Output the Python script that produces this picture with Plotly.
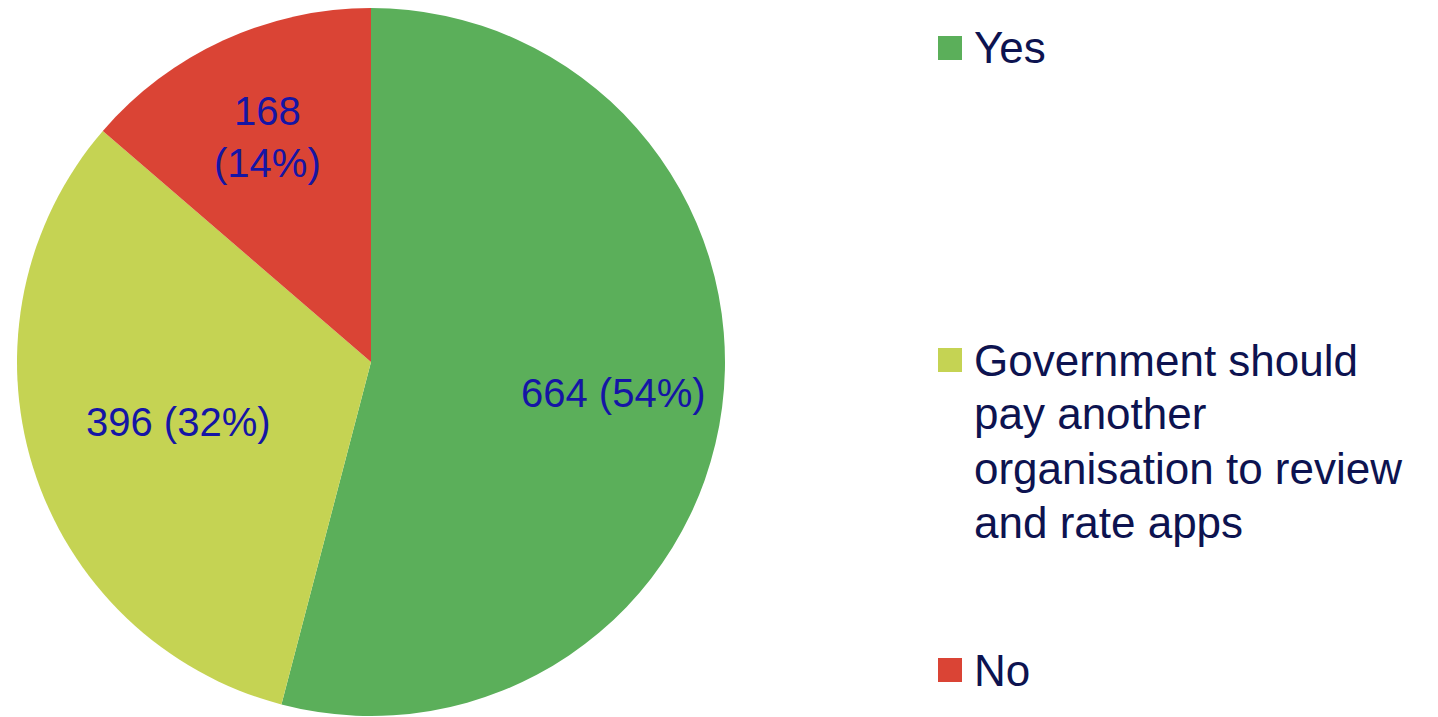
import math
import plotly.graph_objects as go

# Data
categories = ["Yes", "Government should pay another organisation to review and rate apps", "No"]
legend_lines = [["Yes"],
                ["Government should", "pay another", "organisation to review", "and rate apps"],
                ["No"]]
values = [664, 396, 168]
colors = ["#5BAF5A", "#C5D353", "#DA4435"]

# Styling / layout
W, H = 1438, 717
CX, CY, R = 371, 362, 354           # pie centre and radius in pixels
label_radius = [0.69, 0.57, 0.70]   # where each value label sits (fraction of radius)
FONT = "Liberation Sans, Arial, Helvetica, sans-serif"

total = sum(values)
pcts = [round(v / total * 100) for v in values]

fig = go.Figure()
fig.add_trace(go.Pie(
    labels=categories,
    values=values,
    textinfo="none",
    sort=False,
    direction="clockwise",
    rotation=0,
    marker=dict(colors=colors, line=dict(width=0)),
    showlegend=False,
    hoverinfo="label+value+percent",
    domain=dict(x=[(CX - R) / W, (CX + R) / W], y=[1 - (CY + R) / H, 1 - (CY - R) / H]),
))

annotations = []
# value labels placed at each slice's mid-angle (clockwise from 12 o'clock)
cum = 0
for c, v, p, rf in zip(categories, values, pcts, label_radius):
    mid = (cum + v / 2) / total * 2 * math.pi
    cum += v
    px = CX + rf * R * math.sin(mid)
    py = CY - rf * R * math.cos(mid)
    txt = f"{v}<br>({p}%)" if c == "No" else f"{v} ({p}%)"
    annotations.append(dict(xref="paper", yref="paper", x=px / W, y=1 - py / H,
                            xanchor="center", yanchor="middle", align="center",
                            text=txt, showarrow=False,
                            font=dict(family=FONT, size=40, color="#1515A5")))

# custom legend (squares + text), spaced as in the original
item_y = [48, 360, 670]  # pixel centres of legend squares
line_gap = 54
shapes = []
for lines, col, py in zip(legend_lines, colors, item_y):
    shapes.append(dict(type="rect", xref="paper", yref="paper",
                       x0=938 / W, x1=962 / W,
                       y0=1 - (py + 12) / H, y1=1 - (py - 12) / H,
                       fillcolor=col, line=dict(width=0)))
    for i, ln in enumerate(lines):
        ly = py + i * line_gap
        annotations.append(dict(xref="paper", yref="paper", x=972 / W, y=1 - ly / H,
                                xanchor="left", yanchor="middle", align="left",
                                text=ln, showarrow=False,
                                font=dict(family=FONT, size=44, color="#0D1350")))

fig.update_layout(
    width=W, height=H,
    margin=dict(l=0, r=0, t=0, b=0),
    paper_bgcolor="white", plot_bgcolor="white",
    shapes=shapes, annotations=annotations,
)

fig.write_html("out.html")
